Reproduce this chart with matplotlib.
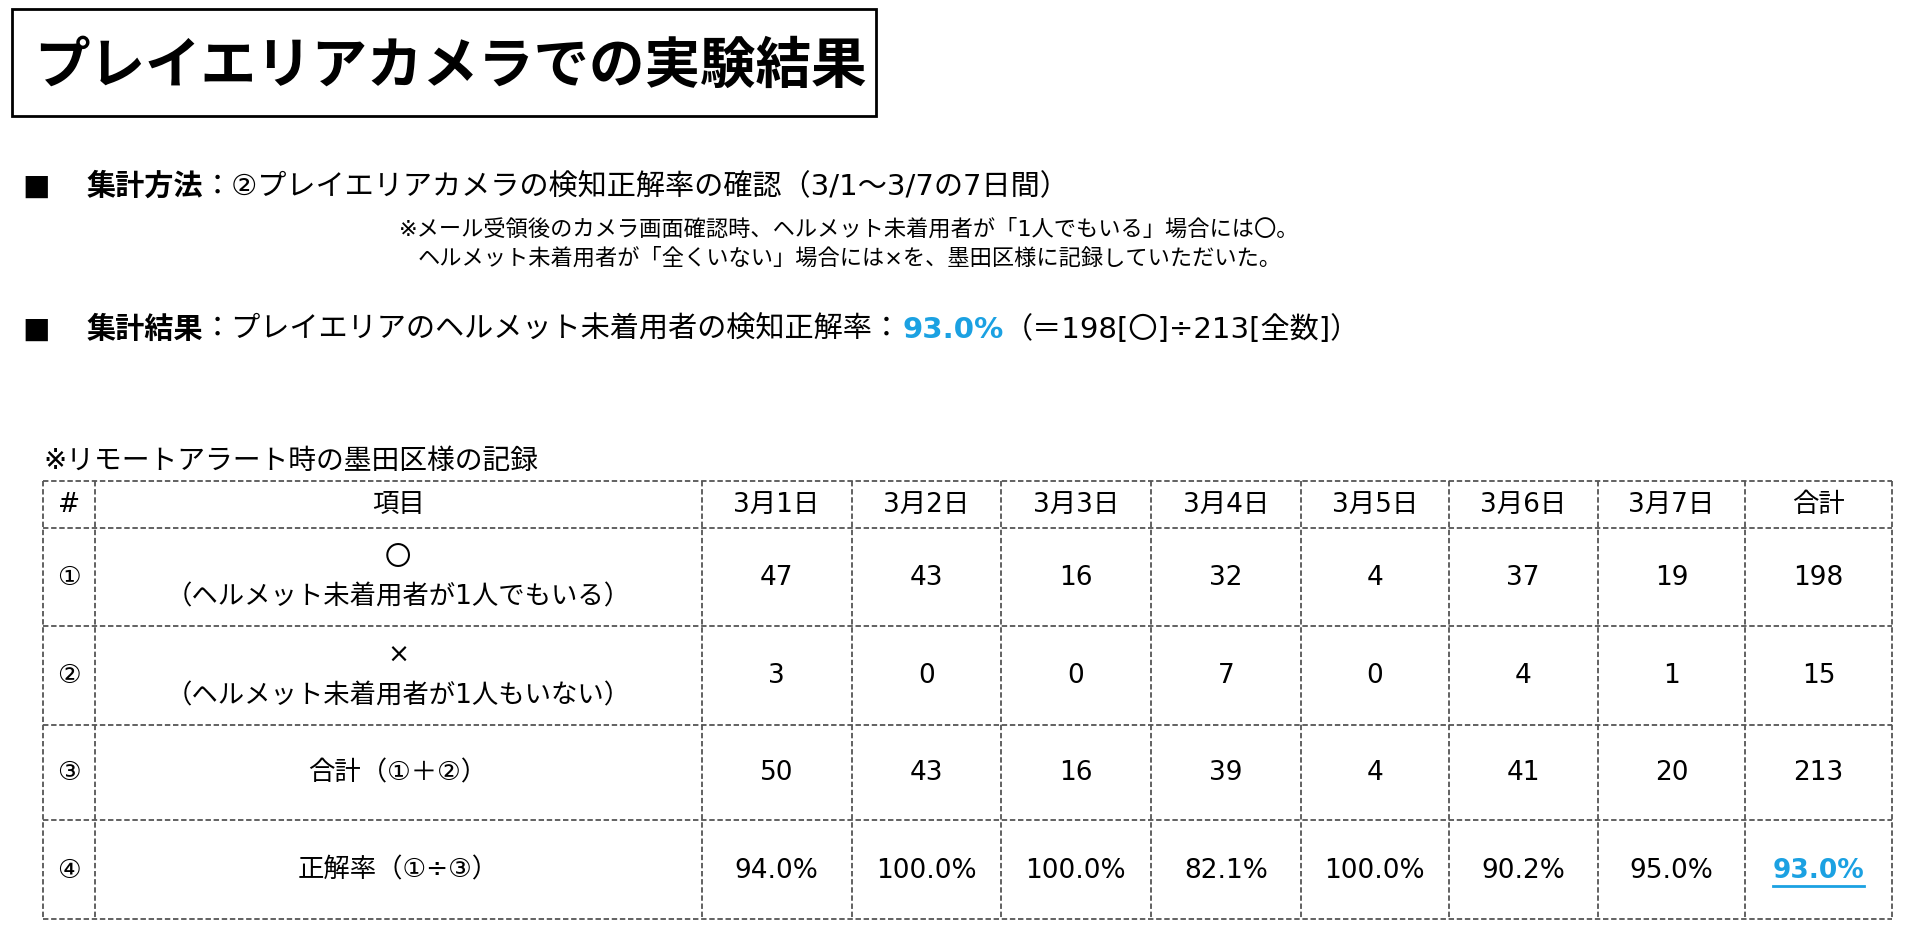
import matplotlib
matplotlib.use("Agg")
import matplotlib.pyplot as plt
from matplotlib.patches import Rectangle

plt.rcParams["font.family"] = ["DejaVu Sans", "Noto Sans CJK JP"]

title = "プレイエリアカメラでの実験結果"
days = ["3月1日", "3月2日", "3月3日", "3月4日", "3月5日", "3月6日", "3月7日", "合計"]
row_ids = ["①", "②", "③", "④"]
row_items = ["〇\n（ヘルメット未着用者が1人でもいる）", "×\n（ヘルメット未着用者が1人もいない）",
             "合計（①＋②）", "正解率（①÷③）"]
ok_counts = [47, 43, 16, 32, 4, 37, 19, 198]
ng_counts = [3, 0, 0, 7, 0, 4, 1, 15]
totals = [50, 43, 16, 39, 4, 41, 20, 213]
rates = ["94.0%", "100.0%", "100.0%", "82.1%", "100.0%", "90.2%", "95.0%", "93.0%"]

BLUE = "#1BA1E2"
W, H = 1560, 775
fig = plt.figure(figsize=(19.2, 9.53), dpi=100)
ax = fig.add_axes([0, 0, 1, 1])
ax.set_xlim(0, W); ax.set_ylim(H, 0); ax.axis("off")
fig.canvas.draw()
r = fig.canvas.get_renderer()

def seq(x, y, parts, size):
    for s, w, c, gap in parts:
        t = ax.text(x, y, s, fontsize=size, fontweight=w, color=c, va="center", ha="left")
        bb = t.get_window_extent(r)
        x += bb.width * W / fig.bbox.width + gap

ax.add_patch(Rectangle((10, 8), 702, 87, fill=False, lw=2, ec="black"))
ax.text(28, 54, title, fontsize=40, fontweight="bold", va="center", family="Noto Sans CJK JP")

seq(18, 152, [("■", "normal", "black", 30), ("集計方法", "bold", "black", 0),
              ("：②プレイエリアカメラの検知正解率の確認（3/1～3/7の7日間）", "normal", "black", 0)], 21)
ax.text(690, 186, "※メール受領後のカメラ画面確認時、ヘルメット未着用者が「1人でもいる」場合には〇。",
        fontsize=16, ha="center", va="center")
ax.text(690, 210, "ヘルメット未着用者が「全くいない」場合には×を、墨田区様に記録していただいた。",
        fontsize=16, ha="center", va="center")
seq(18, 268, [("■", "normal", "black", 30), ("集計結果", "bold", "black", 0),
              ("：プレイエリアのヘルメット未着用者の検知正解率：", "normal", "black", 0),
              ("93.0%", "bold", BLUE, 0), ("（＝198[〇]÷213[全数]）", "normal", "black", 0)], 21)

ax.text(35, 375, "※リモートアラート時の墨田区様の記録", fontsize=20, va="center")

xs = [35, 77, 570, 692, 813, 935, 1057, 1177, 1298, 1418, 1537]
ys = [392, 430, 510, 590, 668, 748]
for x in xs:
    ax.plot([x, x], [ys[0], ys[-1]], color="#555555", lw=1.3, ls=(0, (3, 1.5)))
for y in ys:
    ax.plot([xs[0], xs[-1]], [y, y], color="#555555", lw=1.3, ls=(0, (3, 1.5)))

def cx(i): return (xs[i] + xs[i + 1]) / 2
def cy(j): return (ys[j] + ys[j + 1]) / 2

FS = 19
ax.text(cx(0), cy(0), "#", fontsize=FS, ha="center", va="center")
ax.text(cx(1), cy(0), "項目", fontsize=FS, ha="center", va="center")
for i, d in enumerate(days):
    ax.text(cx(i + 2), cy(0), d, fontsize=FS, ha="center", va="center")
rows = [[str(v) for v in ok_counts], [str(v) for v in ng_counts], [str(v) for v in totals], rates]
for j in range(4):
    ax.text(cx(0), cy(j + 1), row_ids[j], fontsize=FS, ha="center", va="center")
    ax.text(cx(1), cy(j + 1), row_items[j], fontsize=FS, ha="center", va="center", linespacing=1.7)
    for i, v in enumerate(rows[j]):
        last = (j == 3 and i == 7)
        t = ax.text(cx(i + 2), cy(j + 1), v, fontsize=FS, ha="center", va="center",
                    fontweight="bold" if last else "normal", color=BLUE if last else "black")
        if last:
            bb = t.get_window_extent(r)
            hw = bb.width * W / fig.bbox.width / 2
            ax.plot([cx(i + 2) - hw, cx(i + 2) + hw], [cy(j + 1) + 13] * 2, color=BLUE, lw=2)

fig.savefig("out.png", dpi=100)
